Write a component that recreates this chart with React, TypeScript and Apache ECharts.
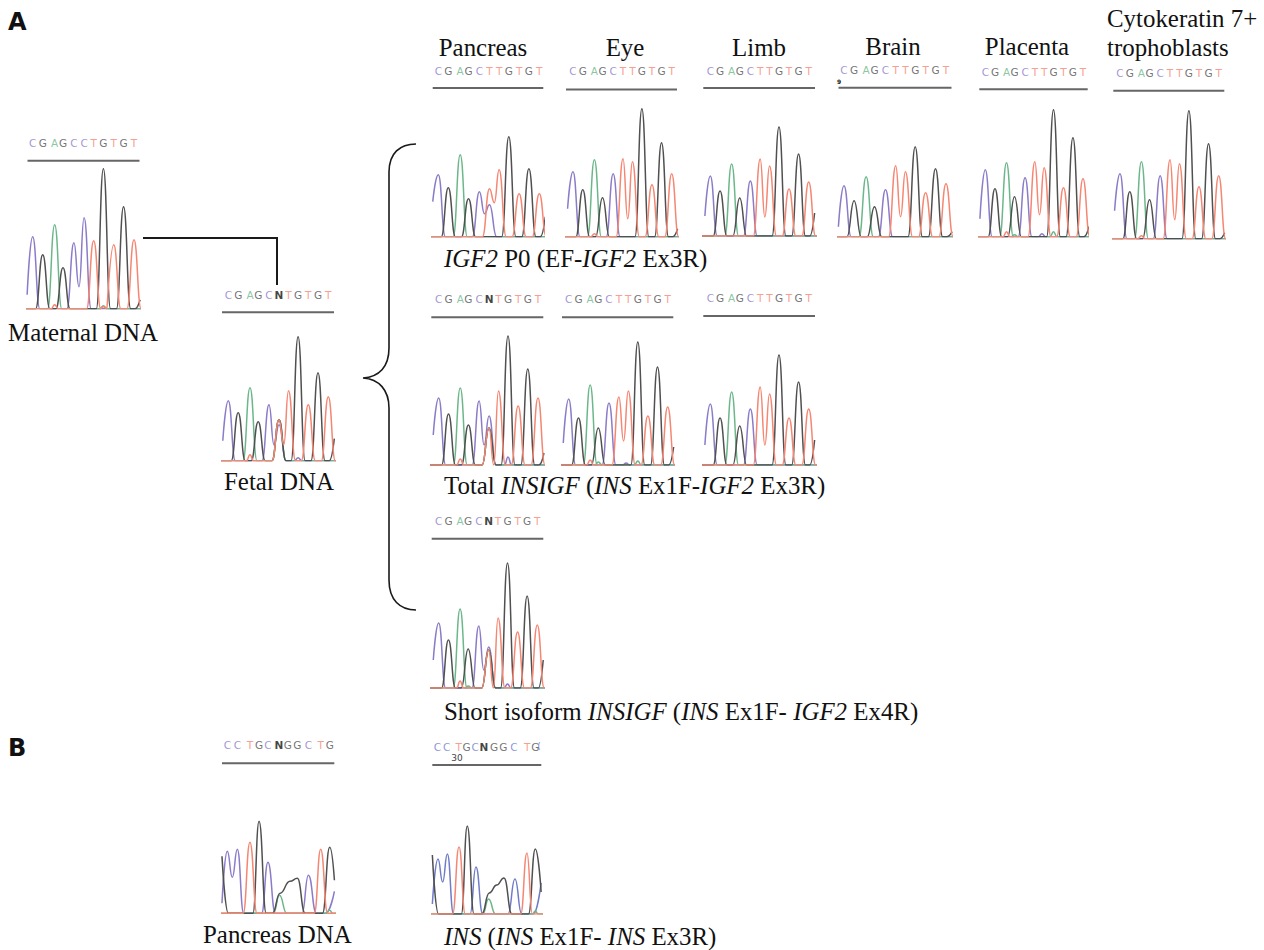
import React, { useEffect, useRef } from "react";
import * as echarts from "echarts";

// ---------- data: peak heights per called base, in trace units ----------
const POS_A = [0, 9.9, 21.7, 29.9, 40.7, 50.7, 60.2, 69.8, 80, 89.7, 100];
const SEQ_MATERNAL = "CGAGCCTGTGT";
const SEQ_FETAL = "CGAGCNTGTGT";
const SEQ_NORMAL = "CGAGCTTGTGT";
const SEQ_B = "CCTGCNGGCTG";

const maternal = [72, 54, 84, 41, 66, 91, 68, 140, 64, 102, 69];
const fetal = [60, 48, 73, 39, 56, 36, 70, 124, 56, 88, 64];
const p0Pancreas = [62, 49, 82, 38, 45, 48, 67, 100, 43, 68, 43];
const p0Eye = [65, 47, 77, 39, 63, 78, 75, 128, 52, 94, 63];
const p0Limb = [60, 45, 72, 38, 55, 77, 70, 109, 47, 82, 54];
const p0Brain = [51, 36, 60, 30, 47, 71, 65, 90, 44, 68, 53];
const p0Placenta = [67, 48, 74, 40, 59, 75, 69, 127, 49, 99, 58];
const p0Cyto = [65, 47, 77, 39, 63, 79, 75, 128, 52, 95, 63];
const totalPancreas = [67, 51, 77, 40, 64, 49, 74, 129, 59, 96, 67];
const totalEye = [66, 47, 80, 37, 62, 68, 74, 123, 49, 98, 58];
const totalLimb = [61, 47, 73, 39, 56, 78, 71, 110, 47, 83, 56];
const shortIso = [65, 48, 79, 39, 62, 41, 70, 125, 56, 92, 63];

// second channel at the heterozygous position (T when N, C when T was called)
const altAtSix = { fetal: 41, p0Pancreas: 32, totalPancreas: 37, shortIso: 38 };

// background bumps: [channel, position, height]
const bumpsMaternal = [["T", 21.7, 4], ["A", 69.8, 3], ["T", 69.8, 2]];
const bumpsFetal = [["T", 21.7, 6], ["C", 69.8, 3]];
const bumpsEye = [["T", 21.7, 3]];
const bumpsPlacenta = [["T", 21.7, 5], ["A", 69.8, 5], ["A", 30, 2], ["C", 58, 3]];
const bumpsCyto = [["T", 21.7, 3]];
const bumpsTotalPancreas = [["T", 21.7, 6], ["C", 69.8, 8]];
const bumpsTotalEye = [["T", 21.7, 5], ["A", 30, 3], ["C", 58, 2], ["A", 69.8, 4]];
const bumpsShort = [["T", 21.7, 7], ["A", 30, 2], ["C", 69.8, 4]];

// panel B traces: [position, height] per channel
const bPancreasC = [[-5.2, 10], [0, 62], [4.9, 36], [9.8, 64], [16, 0], [33.5, 0], [39.7, 51], [47, 0], [73, 0], [79.2, 38], [87, 0], [96, 0], [104.6, 22]];
const bPancreasG = [[-5.2, 57], [1, 0], [25, 0], [31, 92], [38, 0], [44, 0], [51.5, 20], [61.2, 32], [68.4, 35], [76, 0], [93, 0], [100, 66], [104.6, 33]];
const bPancreasT = [[-8, 0], [15.5, 0], [22.1, 71], [29, 0], [85, 0], [91.2, 64], [98, 0], [110, 0]];
const bPancreasA = [[-8, 0], [45, 0], [51, 18], [58, 0], [96, 0], [100, 3], [103, 0], [110, 0]];
const bInsC = [[-5.8, 10], [0, 55], [4.8, 32], [9.6, 60], [16, 0], [33, 0], [39, 47], [46, 0], [72, 0], [79.1, 35], [86, 0], [98, 0], [106, 31]];
const bInsG = [[-5.8, 59], [0.5, 0], [24, 0], [30.1, 88], [37, 0], [45, 0], [52.7, 21], [60.3, 29], [67.8, 36], [76, 0], [93, 0], [100, 65], [106, 22]];
const bInsT = [[-8, 0], [15, 0], [21.6, 67], [28, 0], [85, 0], [91.4, 61], [97, 0], [110, 0]];
const bInsA = [[-8, 0], [46, 0], [52, 15], [59, 0], [97, 0], [100, 3], [103, 0], [110, 0]];
const POS_B_PANCREAS = [0, 9.8, 22.1, 31, 39.7, 50.5, 59, 68.4, 79.2, 91.2, 100];
const POS_B_INS = [-0.7, 8.9, 21.2, 29.4, 38.3, 47.2, 57.5, 67.1, 78, 91.7, 100];

const COLORS: Record<string, string> = { C: "#8b7bc8", G: "#505050", A: "#6cb78a", T: "#f58672", N: "#111111" };
const INS_BLUE = "#6f7cc8";
const SERIF = '"Liberation Serif", serif';

// ---------- layout ----------
const PANELS: any[] = [
  { seq: SEQ_MATERNAL, h: maternal, valley: 22, lead: 14, endG: 9, bumps: bumpsMaternal, left: 27.5, right: 139.5, first: 32.7, last: 134, base: 308.7, letterY: 143, lineY: 160.7 },
  { seq: SEQ_FETAL, h: fetal, alt: altAtSix.fetal, valley: 16, lead: 20, endG: 22, bumps: bumpsFetal, left: 222, right: 334, first: 228.3, last: 328.3, base: 460.7, letterY: 295, lineY: 312.3 },
  { seq: SEQ_NORMAL, h: p0Pancreas, alt: altAtSix.p0Pancreas, valleyC: 23, valley: 34, lead: 35, endG: 20, left: 432.7, right: 543.3, first: 438.3, last: 539.3, base: 236.7, letterY: 70.7, lineY: 88 },
  { seq: SEQ_NORMAL, h: p0Eye, valley: 18, lead: 28, endG: 8, bumps: bumpsEye, left: 566, right: 677, first: 573, last: 671.7, base: 236.7, letterY: 71, lineY: 89.5 },
  { seq: SEQ_NORMAL, h: p0Limb, valley: 19, lead: 20, endG: 23, left: 703.3, right: 815, first: 710.3, last: 808.7, base: 236, letterY: 70.7, lineY: 88 },
  { seq: SEQ_NORMAL, h: p0Brain, valley: 20, lead: 10, endG: 5, left: 838.5, right: 951.5, first: 844, last: 946, base: 236.7, letterY: 70, lineY: 87.7 },
  { seq: SEQ_NORMAL, h: p0Placenta, valley: 22, lead: 18, endG: 10, bumps: bumpsPlacenta, left: 979.3, right: 1087.7, first: 985.3, last: 1083, base: 236.7, letterY: 71.7, lineY: 89.3 },
  { seq: SEQ_NORMAL, h: p0Cyto, valley: 19, lead: 28, endG: 6, bumps: bumpsCyto, left: 1113.3, right: 1224.3, first: 1120, last: 1218.7, base: 238.7, letterY: 73.3, lineY: 90.7 },
  { seq: SEQ_FETAL, h: totalPancreas, alt: altAtSix.totalPancreas, valleyC: 20, valley: 0, lead: 30, endG: 12, bumps: bumpsTotalPancreas, left: 431.3, right: 543.3, first: 438.7, last: 538, base: 465, letterY: 299.3, lineY: 317.3 },
  { seq: SEQ_NORMAL, h: totalEye, valley: 24, lead: 22, endG: 18, bumps: bumpsTotalEye, left: 562, right: 673.3, first: 568.7, last: 667.7, base: 465, letterY: 299.3, lineY: 317.3 },
  { seq: SEQ_NORMAL, h: totalLimb, valley: 20, lead: 20, endG: 25, left: 703.3, right: 815, first: 710.3, last: 808.7, base: 465, letterY: 298.3, lineY: 316 },
  { seq: SEQ_FETAL, h: shortIso, alt: altAtSix.shortIso, valleyC: 18, valley: 0, lead: 28, endG: 28, bumps: bumpsShort, left: 431.7, right: 543.3, first: 438.7, last: 537.3, base: 688, letterY: 521, lineY: 538.7 },
  { seq: SEQ_B, pos: POS_B_PANCREAS, traces: { C: bPancreasC, A: bPancreasA, G: bPancreasG, T: bPancreasT }, left: 222, right: 334.3, first: 227.3, last: 329.7, base: 913.3, letterY: 745, lineY: 763.3 },
  { seq: SEQ_B, pos: POS_B_INS, blue: true, traces: { C: bInsC, A: bInsA, G: bInsG, T: bInsT }, left: 432.3, right: 541.3, first: 438, last: 535.3, base: 914, letterY: 747.3, lineY: 765 },
];

const FOOT = 7;

function channelTrace(p: any, ch: string): number[][] {
  const seq: string = p.seq;
  const peaks: number[][] = [];
  seq.split("").forEach((b: string, i: number) => {
    if (b === "N") {
      peaks.push([POS_A[i], ch === "C" ? p.h[i] : p.alt]);
      return;
    }
    if (i === 5 && p.alt && ch === "C" && b === "T") { peaks.push([POS_A[i], p.alt]); return; }
    if (b === ch) peaks.push([POS_A[i], p.h[i]]);
  });
  (p.bumps || []).forEach((b: any) => { if (b[0] === ch) peaks.push([b[1], b[2], 1]); });
  peaks.sort((a, b) => a[0] - b[0]);
  const pts: number[][] = ch === "C" ? [[-5.5, p.lead]] : [[-10, 0]];
  peaks.forEach((pk, i) => {
    const prev = peaks[i - 1];
    const next = peaks[i + 1];
    const w = pk[2] ? 3.5 : FOOT;
    if (prev && !prev[2] && !pk[2] && pk[0] - prev[0] < 2 * FOOT) {
      const v = ch === "C" && p.valleyC !== undefined ? p.valleyC : p.valley;
      pts.push([(pk[0] + prev[0]) / 2, v]);
    } else if (!(ch === "C" && !prev)) {
      pts.push([pk[0] - w, 0]);
    }
    pts.push([pk[0], pk[1]]);
    if (!(next && !next[2] && !pk[2] && next[0] - pk[0] < 2 * FOOT)) pts.push([pk[0] + w, 0]);
  });
  if (ch === "G") { pts.push([101, 0]); pts.push([106, p.endG]); }
  else pts.push([112, 0]);
  return pts;
}

const TEXTS: any[] = [
  { t: "Pancreas", x: 483, y: 47, align: "center" },
  { t: "Eye", x: 625, y: 47, align: "center" },
  { t: "Limb", x: 759, y: 47, align: "center" },
  { t: "Brain", x: 893, y: 46, align: "center" },
  { t: "Placenta", x: 1027, y: 46, align: "center" },
  { t: "Cytokeratin 7+", x: 1107, y: 18 },
  { t: "trophoblasts", x: 1107, y: 47 },
  { t: "{i|IGF2} P0 (EF-{i|IGF2} Ex3R)", x: 444, y: 258 },
  { t: "Total {i|INSIGF} ({i|INS} Ex1F-{i|IGF2} Ex3R)", x: 444, y: 485 },
  { t: "Short isoform {i|INSIGF} ({i|INS} Ex1F- {i|IGF2} Ex4R)", x: 444, y: 711 },
  { t: "Maternal DNA", x: 8, y: 332 },
  { t: "Fetal DNA", x: 224, y: 481 },
  { t: "Pancreas DNA", x: 203, y: 934 },
  { t: "{i|INS} ({i|INS} Ex1F- {i|INS} Ex3R)", x: 444, y: 936 },
];

const BRACKET = "M416 144 C400 144 389 153 389 172 L389 348 C389 367 379 377 363 378 C379 379 389 390 389 408 L389 580 C389 600 400 610 416 610";

function buildOption() {
  const grid: any[] = [];
  const xAxis: any[] = [];
  const yAxis: any[] = [];
  const series: any[] = [];
  const graphic: any[] = [];

  PANELS.forEach((p, idx) => {
    const s = (p.last - p.first) / 100;
    const top = p.letterY - 10;
    const height = p.base - top;
    grid.push({ left: p.left, width: p.right - p.left, top, height });
    xAxis.push({ type: "value", gridIndex: idx, show: false, min: (p.left - p.first) / s, max: (p.right - p.first) / s });
    yAxis.push({ type: "value", gridIndex: idx, show: false, min: 0, max: height });

    ["C", "A", "G", "T"].forEach((ch) => {
      const data = p.traces ? p.traces[ch] : channelTrace(p, ch);
      series.push({
        type: "line",
        xAxisIndex: idx,
        yAxisIndex: idx,
        data,
        smooth: 0.5,
        smoothMonotone: "x",
        symbol: "none",
        clip: true,
        silent: true,
        lineStyle: { color: ch === "C" && p.blue ? INS_BLUE : COLORS[ch], width: 1.5 },
      });
    });

    const pos: number[] = p.pos || POS_A;
    series.push({
      type: "scatter",
      xAxisIndex: idx,
      yAxisIndex: idx,
      symbolSize: 1,
      silent: true,
      itemStyle: { color: "transparent" },
      data: p.seq.split("").map((b: string, i: number) => ({
        name: b,
        value: [pos[i], p.base - p.letterY],
        label: { color: b === "C" && p.blue ? INS_BLUE : COLORS[b], fontWeight: b === "N" ? "bold" : "normal" },
      })),
      label: {
        show: true,
        position: "inside",
        formatter: (q: any) => q.name,
        fontFamily: '"DejaVu Sans", sans-serif',
        fontSize: 10.5,
      },
    });

    graphic.push({
      type: "line",
      silent: true,
      shape: { x1: p.left, y1: p.lineY, x2: p.right, y2: p.lineY },
      style: { stroke: "#666666", lineWidth: 2 },
    });
  });

  TEXTS.forEach((t) => {
    graphic.push({
      type: "text",
      silent: true,
      style: {
        x: t.x,
        y: t.y,
        text: t.t,
        align: t.align || "left",
        verticalAlign: "middle",
        fontFamily: SERIF,
        fontSize: 24.9,
        fill: "#111",
        rich: { i: { fontFamily: SERIF, fontSize: 24.9, fontStyle: "italic", fill: "#111" } },
      },
    });
  });

  [["A", 8, 22], ["B", 8, 748]].forEach(([t, x, y]) => {
    graphic.push({
      type: "text",
      silent: true,
      style: { x, y, text: t, verticalAlign: "middle", fontFamily: '"DejaVu Sans", sans-serif', fontWeight: "bold", fontSize: 24, fill: "#111" },
    });
  });

  graphic.push({ type: "text", silent: true, style: { x: 457, y: 758, text: "30", align: "center", verticalAlign: "middle", fontFamily: '"DejaVu Sans", sans-serif', fontSize: 9, fill: "#444" } });
  graphic.push({ type: "text", silent: true, style: { x: 539, y: 746, text: "(", align: "center", verticalAlign: "middle", fontFamily: '"DejaVu Sans", sans-serif', fontSize: 8, fill: INS_BLUE } });
  graphic.push({ type: "text", silent: true, style: { x: 839, y: 81, text: "9", align: "center", verticalAlign: "middle", fontFamily: '"DejaVu Sans", sans-serif', fontWeight: "bold", fontSize: 6, fill: "#222" } });

  graphic.push({
    type: "polyline",
    silent: true,
    shape: { points: [[143, 238], [277, 238], [277, 285]] },
    style: { stroke: "#1a1a1a", lineWidth: 2, fill: "none" },
  });
  graphic.push({
    type: "figBracket",
    silent: true,
    x: 0,
    y: 0,
    style: { stroke: "#1a1a1a", lineWidth: 1.6, fill: "none" },
  });

  return { animation: false, backgroundColor: "#ffffff", grid, xAxis, yAxis, series, graphic };
}

export default function App() {
  const ref = useRef<HTMLDivElement>(null);
  useEffect(() => {
    document.body.style.margin = "0";
    echarts.graphic.registerShape("figBracket", echarts.graphic.extendPath(BRACKET, {}));
    const chart = echarts.init(ref.current!, undefined, { renderer: "svg" });
    chart.setOption(buildOption() as any);
    return () => chart.dispose();
  }, []);
  return <div ref={ref} style={{ width: 1264, height: 950 }} />;
}
